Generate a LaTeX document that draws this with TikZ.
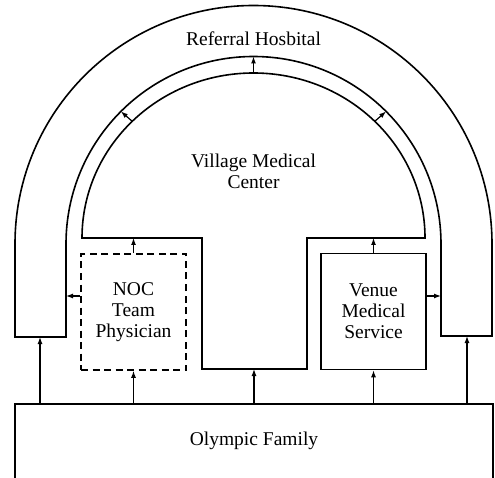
\documentclass[tikz,border=0pt]{standalone}
\usepackage{fontspec}
\setmainfont{Liberation Serif}
\usetikzlibrary{arrows.meta}
\begin{document}
\begin{tikzpicture}[x=1pt,y=-1pt,
  shapeline/.style={line width=1.6pt, line join=miter},
  arr/.style={line width=1.2pt,-{Latex[length=7pt,width=5pt]}},
  lbl/.style={font=\fontsize{19.5}{21}\selectfont, align=center},
  box/.style={draw, line width=1.6pt, minimum width=105pt, minimum height=116pt, inner sep=0pt, lbl}]
\useasboundingbox (0,0) rectangle (495,478);
% Referral Hospital arch
\draw[shapeline] (15,337) -- (15,244) arc[start angle=180,end angle=0,radius=238.5pt]
  -- (492,336) -- (441,336) -- (441,244) arc[start angle=0,end angle=180,radius=187.5pt]
  -- (66,337) -- cycle;
% Village Medical Center
\draw[shapeline] (425,238) -- (307,238) -- (307,369) -- (202,369) -- (202,238) -- (82,238)
  arc[start angle=180,end angle=0,x radius=171.5pt,y radius=165pt] -- cycle;
% labels and boxes
\node[lbl] (ref) at (253.5,39) {Referral Hosbital};
\node[lbl] (vmc) at (253.5,171) {Village Medical\\Center};
\node[box, dash pattern=on 7pt off 4.5pt] (noc) at (133.5,312) {NOC\\Team\\Physician};
\node[box] (ven) at (373.5,311.5) {Venue\\Medical\\Service};
\node[lbl, minimum width=478pt, minimum height=78pt, inner sep=0pt, anchor=north] (oly) at (254,404) {};
\node[lbl] (olyt) at (254,441) {Olympic Family};
\draw[shapeline] (oly.south west) -- (oly.north west) -- (oly.north east) -- (oly.south east);
% connector end points
\coordinate (llb) at (40,337);
\coordinate (rlb) at (467,336);
\coordinate (vbot) at (254,369);
\coordinate (vbl) at (133.5,238);
\coordinate (vbr) at (373.5,238);
\coordinate (lli) at (66,296);
\coordinate (rli) at (441,296);
\coordinate (vtop) at (253.5,73);
\coordinate (rtop) at (253.5,56.5);
\coordinate (vdl) at (132.2,121.3);
\coordinate (rdl) at (120.9,111.4);
\coordinate (vdr) at (374.8,121.3);
\coordinate (rdr) at (386.1,111.4);
% connectors
\draw[arr] (oly.north -| llb) -- (llb);
\draw[arr] (oly.north -| noc.south) -- (noc.south);
\draw[arr] (oly.north -| vbot) -- (vbot);
\draw[arr] (oly.north -| ven.south) -- (ven.south);
\draw[arr] (oly.north -| rlb) -- (rlb);
\draw[arr] (noc.north) -- (vbl);
\draw[arr] (ven.north) -- (vbr);
\draw[arr] (noc.west |- lli) -- (lli);
\draw[arr] (ven.east |- rli) -- (rli);
\draw[arr] (vtop) -- (rtop);
\draw[arr] (vdl) -- (rdl);
\draw[arr] (vdr) -- (rdr);
\end{tikzpicture}
\end{document}
